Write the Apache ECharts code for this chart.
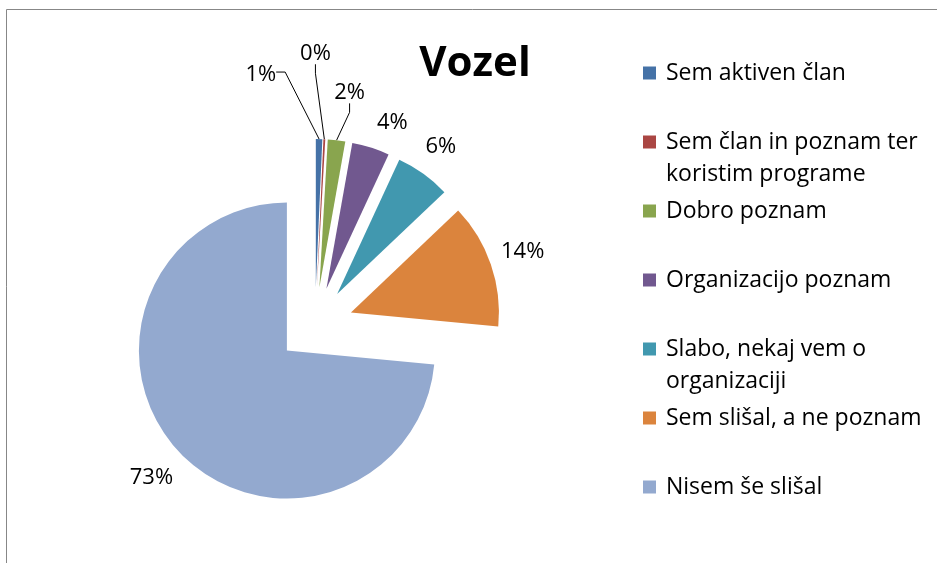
<!DOCTYPE html>
<html>
<head>
<meta charset="utf-8">
<style>
html, body { margin: 0; padding: 0; background: #fff; }
#chart { width: 937px; height: 563px; }
</style>
<script src="https://cdn.jsdelivr.net/npm/echarts@6/dist/echarts.min.js"></script>
</head>
<body>
<div id="chart"></div>
<script>
// podatki
var categories = ['Sem aktiven član', 'Sem član in poznam ter koristim programe', 'Dobro poznam',
  'Organizacijo poznam', 'Slabo, nekaj vem o organizaciji', 'Sem slišal, a ne poznam', 'Nisem še slišal'];
var legendLabels = ['Sem aktiven član', 'Sem član in poznam ter\nkoristim programe', 'Dobro poznam',
  'Organizacijo poznam', 'Slabo, nekaj vem o\norganizaciji', 'Sem slišal, a ne poznam', 'Nisem še slišal'];
var shares = [0.7, 0.2, 1.9, 4.1, 6.0, 13.6, 73.5];
var colors = ['#4572A7', '#AA4643', '#89A54E', '#71588F', '#4198AF', '#DB843D', '#93A9CF'];
// premik oznak glede na privzeti položaj (kot v Excelu)
var labelShift = [[-88, -50], [-39, -72], [-18, -34], [-12, -11], [-20, -16], [-17, -8], [20, 18]];
// s katere strani oznake pride povezovalna črta
var lineSide = ['right', 'bottom', 'bottom', null, null, null, null];

var font = 'Open Sans';
var lineLen2 = 9;

var myChart = echarts.init(document.getElementById('chart'));

var pieData = categories.map(function (name, i) {
  return {
    name: name,
    value: shares[i],
    selected: true,
    itemStyle: { color: colors[i] },
    labelLine: { show: lineSide[i] != null }
  };
});

myChart.setOption({
  animation: false,
  title: {
    text: 'Vozel',
    left: 470,
    top: 38,
    textAlign: 'center',
    textStyle: { fontFamily: font, fontWeight: 'bold', fontSize: 42, color: '#000' }
  },
  legend: {
    orient: 'vertical',
    left: 643,
    top: 25,
    padding: 0,
    itemGap: -27,
    itemWidth: 13,
    itemHeight: 13,
    icon: 'rect',
    data: categories,
    formatter: function (name) {
      var lbl = legendLabels[categories.indexOf(name)];
      // oznaka v srednji vrstici, da se kvadratek poravna s prvo vrstico
      return '\n' + lbl + (lbl.indexOf('\n') < 0 ? '\n' : '');
    },
    textStyle: { fontFamily: font, fontSize: 23, lineHeight: 32, color: '#000', padding: [0, 0, 0, 5] }
  },
  graphic: [{
    type: 'rect',
    shape: { x: 6.5, y: 9.5, width: 1000, height: 1000 },
    style: { fill: 'none', stroke: '#878787', lineWidth: 1 },
    silent: true
  }],
  series: [{
    type: 'pie',
    center: [315, 325],
    radius: 148,
    startAngle: 90,
    clockwise: true,
    selectedMode: 'multiple',
    selectedOffset: 38,
    percentPrecision: 0,
    avoidLabelOverlap: false,
    emphasis: { disabled: true },
    label: {
      formatter: '{d}%',
      fontFamily: font,
      fontSize: 22,
      color: '#000'
    },
    labelLine: {
      length: 14,
      length2: lineLen2,
      lineStyle: { color: '#000', width: 1 }
    },
    labelLayout: function (p) {
      var i = p.dataIndex;
      var s = labelShift[i];
      var r = p.labelRect;
      var out = { dx: s[0], dy: s[1] };
      var pts = p.labelLinePoints;
      if (lineSide[i] && pts && pts.length) {
        var x = r.x + s[0], y = r.y + s[1];
        var end = lineSide[i] === 'right'
          ? [x + r.width, y + r.height / 2 - 3]
          : [x + r.width / 2, y + r.height];
        var mid = lineSide[i] === 'right'
          ? [end[0] + lineLen2, end[1]]
          : [end[0], end[1] + lineLen2];
        out.labelLinePoints = [pts[0].slice ? pts[0].slice() : pts[0], mid, end];
      }
      return out;
    },
    data: pieData
  }]
});
</script>
</body>
</html>
